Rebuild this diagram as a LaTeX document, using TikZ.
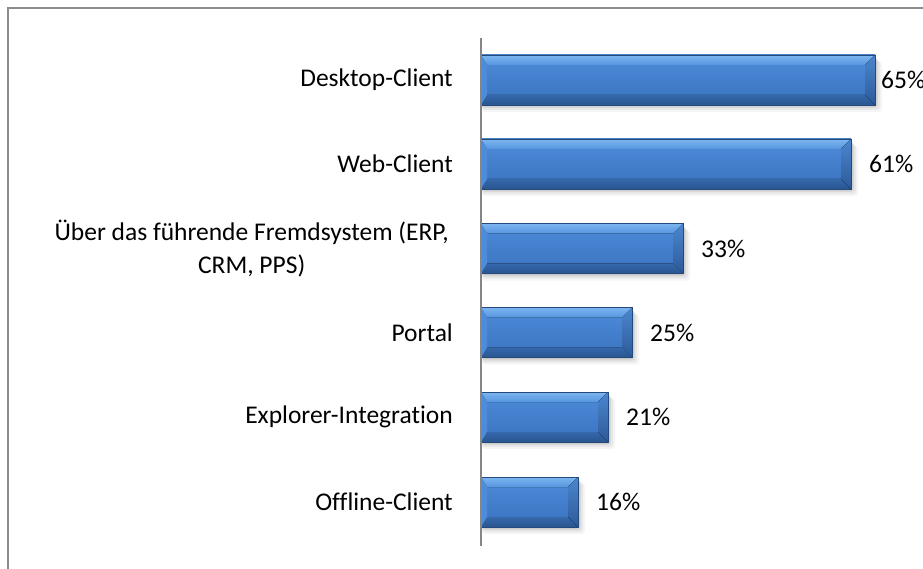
\documentclass[tikz,border=0pt]{standalone}
\usepackage{fontspec}
\setmainfont{Carlito}[Ligatures={NoCommon}]
\definecolor{bodytop}{HTML}{4D8BD9}
\definecolor{bodybot}{HTML}{3A73C0}
\definecolor{bevtopA}{HTML}{7DB5EF}
\definecolor{bevtopB}{HTML}{5596E0}
\definecolor{bevbotA}{HTML}{3568AC}
\definecolor{bevbotB}{HTML}{2A5590}
\definecolor{bevrA}{HTML}{4C86CF}
\definecolor{bevrB}{HTML}{2D5A98}
\definecolor{bevleft}{HTML}{4D8CDB}
\definecolor{baredge}{HTML}{24497C}
\definecolor{frame}{HTML}{8C8C8C}
\definecolor{axisgray}{HTML}{868686}
\tikzset{
  cat/.style={anchor=east, align=center, font=\fontsize{25.5}{33}\selectfont, inner sep=0pt},
  val/.style={anchor=west, font=\fontsize{25.5}{30}\selectfont, inner sep=0pt},
}
\begin{document}
\begin{tikzpicture}[x=1pt,y=-1pt]
\useasboundingbox (0,0) rectangle (923,569);
\fill[white] (0,0) rectangle (923,569);
% frame (only top and left visible)
\draw[frame, line width=2pt] (8,569) -- (8,8) -- (923,8);
% bars
\foreach \yt/\xr/\nm in {55/875/b1, 139/851/b2, 223.5/683/b3, 307.5/632/b4, 392/608/b5, 477/578/b6}{
  \pgfmathsetmacro{\yb}{\yt+50}
  \pgfmathsetmacro{\xl}{481}
  % shadow
  \foreach \k/\op in {7/0.04,5/0.05,3/0.07,1.5/0.08}{
    \fill[black, opacity=\op, rounded corners=3pt] (\xl+1,\yt+\k) rectangle (\xr+\k,\yb+\k);
  }
  \fill[top color=bodytop, bottom color=bodybot] (\xl,\yt) rectangle (\xr,\yb);
  \fill[top color=bevtopA, bottom color=bevtopB] (\xl,\yt) -- (\xr,\yt) -- (\xr-10,\yt+10) -- (\xl+6,\yt+10) -- cycle;
  \fill[top color=bevbotA, bottom color=bevbotB] (\xl,\yb) -- (\xr,\yb) -- (\xr-10,\yb-10) -- (\xl+6,\yb-10) -- cycle;
  \fill[top color=bevrA, bottom color=bevrB] (\xr,\yt) -- (\xr,\yb) -- (\xr-10,\yb-10) -- (\xr-10,\yt+10) -- cycle;
  \fill[bevleft] (\xl,\yt) -- (\xl,\yb) -- (\xl+6,\yb-10) -- (\xl+6,\yt+10) -- cycle;
  \draw[baredge, line width=0.7pt] (\xl,\yt) rectangle (\xr,\yb);
  \coordinate (\nm) at (\xr,\yt+25);
}
% axis
\draw[axisgray, line width=1.5pt] (481,38) coordinate (axtop) -- (481,546) coordinate (axbot);
% category labels
\node[cat] (c1) at (453,80) {Desktop-Client};
\node[cat] (c2) at (453,164) {Web-Client};
\node[cat] (c3) at (449,248.5) {Über das führende Fremdsystem (ERP,\\CRM, PPS)};
\node[cat] (c4) at (453,332.5) {Portal};
\node[cat] (c5) at (453,417) {Explorer-Integration};
\node[cat] (c6) at (453,502) {Offline-Client};
% value labels
\node[val] (v1) at ([xshift=6pt]b1) {65\%};
\node[val] (v2) at ([xshift=18pt]b2) {61\%};
\node[val] (v3) at ([xshift=18pt]b3) {33\%};
\node[val] (v4) at ([xshift=18pt]b4) {25\%};
\node[val] (v5) at ([xshift=18pt]b5) {21\%};
\node[val] (v6) at ([xshift=18pt]b6) {16\%};
\end{tikzpicture}
\end{document}
